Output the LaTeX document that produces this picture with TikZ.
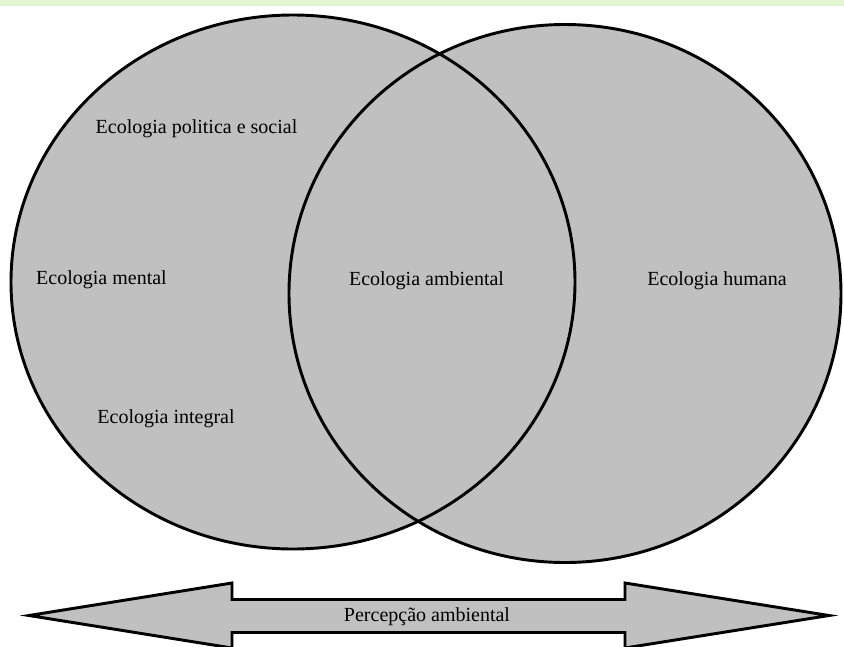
\documentclass[tikz,border=0pt]{standalone}
\usepackage{fontspec}
\setmainfont{Liberation Serif}
\definecolor{bandgreen}{HTML}{E3F5D3}
\definecolor{silverfill}{HTML}{C0C0C0}
\tikzset{
  venn/.style={draw=black, line width=2.2pt},
  vennfill/.style={fill=silverfill},
  lbl/.style={font=\fontsize{15pt}{18pt}\selectfont, inner sep=0pt, anchor=base},
  arrowshape/.style={draw=black, fill=silverfill, line width=2.2pt, line join=miter}
}
\begin{document}
\begin{tikzpicture}[x=0.75pt, y=-0.75pt]
\useasboundingbox (0,0) rectangle (844,647);
\fill[white] (0,0) rectangle (844,647);
\fill[bandgreen] (0,0) rectangle (844,6);
% circles
\fill[vennfill] (293,282) ellipse [x radius=282, y radius=267];
\fill[vennfill] (565,293.5) ellipse [x radius=276, y radius=269];
\draw[venn] (293,282) ellipse [x radius=282, y radius=267];
\draw[venn] (565,293.5) ellipse [x radius=276, y radius=269];
% double arrow
\draw[arrowshape] (29,615.5) -- (232,583) -- (232,599.5) -- (625,599.5) -- (625,583)
  -- (829,615.5) -- (625,648) -- (625,632.5) -- (232,632.5) -- (232,648) -- cycle;
% labels
\node[lbl] (pol) at (196.5,133) {Ecologia politica e social};
\node[lbl] (men) at (101.5,284) {Ecologia mental};
\node[lbl] (amb) at (426.5,285) {Ecologia ambiental};
\node[lbl] (hum) at (717,285) {Ecologia humana};
\node[lbl] (int) at (166,423) {Ecologia integral};
\node[lbl] (per) at (427,621) {Percepção ambiental};
\end{tikzpicture}
\end{document}
